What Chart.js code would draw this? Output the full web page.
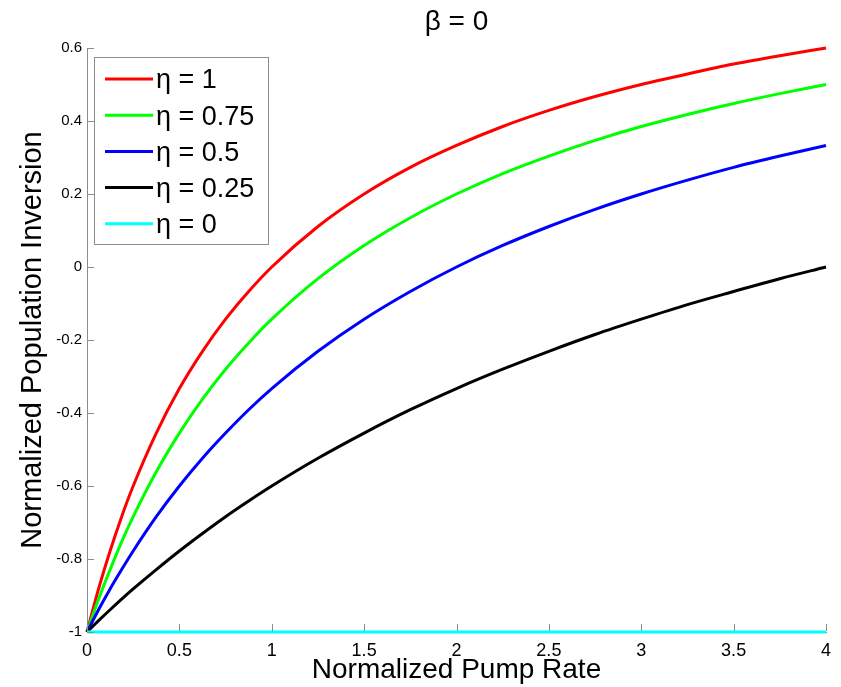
<!DOCTYPE html>
<html lang="en">
<head>
  <meta charset="UTF-8" />
  <title>Population Inversion vs Pump Rate</title>
  <script src="https://cdn.jsdelivr.net/npm/chart.js"></script>
  <style>
    html, body { margin: 0; padding: 0; background: #fff; }
    #wrap { width: 841px; height: 687px; }
  </style>
</head>
<body>
  <div id="wrap"><canvas id="inversionChart" width="841" height="687"></canvas></div>

  <script>
    // normalized pump rate samples (denser near zero where the curves bend hard)
    const pumpRate = [0, 0.0625, 0.125, 0.1875, 0.25, 0.375, 0.5, 0.625, 0.75, 0.875, 1, 1.25, 1.5, 1.75, 2, 2.25, 2.5, 2.75, 3, 3.25, 3.5, 3.75, 4];

    // normalized population inversion
    const eta100 = [-1, -0.882, -0.778, -0.684, -0.6, -0.455, -0.333, -0.231, -0.143, -0.067, 0, 0.111, 0.2, 0.273, 0.333, 0.385, 0.429, 0.467, 0.5, 0.529, 0.556, 0.579, 0.6];
    const eta075 = [-1, -0.91, -0.829, -0.753, -0.684, -0.561, -0.455, -0.362, -0.28, -0.208, -0.143, -0.032, 0.059, 0.135, 0.2, 0.256, 0.304, 0.347, 0.385, 0.418, 0.448, 0.475, 0.5];
    const eta050 = [-1, -0.939, -0.882, -0.829, -0.778, -0.684, -0.6, -0.524, -0.455, -0.391, -0.333, -0.231, -0.143, -0.067, 0, 0.059, 0.111, 0.158, 0.2, 0.238, 0.273, 0.304, 0.333];
    const eta025 = [-1, -0.969, -0.939, -0.91, -0.882, -0.829, -0.778, -0.73, -0.684, -0.641, -0.6, -0.524, -0.455, -0.391, -0.333, -0.28, -0.231, -0.185, -0.143, -0.103, -0.067, -0.032, 0];
    const eta000 = [-1, -1, -1, -1, -1, -1, -1, -1, -1, -1, -1, -1, -1, -1, -1, -1, -1, -1, -1, -1, -1, -1, -1];

    const seriesLabels = ['η = 1', 'η = 0.75', 'η = 0.5', 'η = 0.25', 'η = 0'];
    const seriesColors = ['#ff0000', '#00ff00', '#0000ff', '#000000', '#00ffff'];
    const seriesValues = [eta100, eta075, eta050, eta025, eta000];
    const chartTitle = 'β = 0';

    const FONT = '"Liberation Sans", Arial, sans-serif';
    const AXIS_GREY = '#8c8c8c';

    // title centred over the plot area rather than the canvas
    const plotTitle = {
      id: 'plotTitle',
      afterDraw(chart) {
        const { ctx, chartArea } = chart;
        ctx.save();
        ctx.font = '28px ' + FONT;
        ctx.fillStyle = '#000';
        ctx.textAlign = 'center';
        ctx.textBaseline = 'middle';
        ctx.fillText(chartTitle, (chartArea.left + chartArea.right) / 2, 22);
        ctx.restore();
      }
    };

    // ticks pointing into the plot, matlab style
    const inwardTicks = {
      id: 'inwardTicks',
      afterDatasetsDraw(chart) {
        const { ctx, chartArea, scales } = chart;
        ctx.save();
        ctx.strokeStyle = AXIS_GREY;
        ctx.lineWidth = 1;
        ctx.beginPath();
        scales.x.ticks.forEach(t => {
          const px = Math.round(scales.x.getPixelForValue(t.value)) + 0.5;
          ctx.moveTo(px, chartArea.bottom - 1);
          ctx.lineTo(px, chartArea.bottom - 8);
        });
        scales.y.ticks.forEach(t => {
          const py = Math.round(scales.y.getPixelForValue(t.value)) + 0.5;
          ctx.moveTo(chartArea.left, py);
          ctx.lineTo(chartArea.left + 7, py);
        });
        ctx.stroke();
        ctx.restore();
      }
    };

    // boxed legend in the upper left corner
    const boxLegend = {
      id: 'boxLegend',
      afterDraw(chart) {
        const { ctx, chartArea } = chart;
        const x0 = chartArea.left + 7, y0 = chartArea.top + 9;
        const w = 174, h = 187;
        ctx.save();
        ctx.fillStyle = '#fff';
        ctx.fillRect(x0, y0, w, h);
        ctx.strokeStyle = '#8c8c8c';
        ctx.lineWidth = 1;
        ctx.strokeRect(x0 + 0.5, y0 + 0.5, w, h);
        ctx.font = '27px ' + FONT;
        ctx.textBaseline = 'middle';
        chart.data.datasets.forEach((ds, i) => {
          const y = y0 + 22 + i * 36.2;
          ctx.strokeStyle = ds.borderColor;
          ctx.lineWidth = 3;
          ctx.beginPath();
          ctx.moveTo(x0 + 11, y);
          ctx.lineTo(x0 + 59, y);
          ctx.stroke();
          ctx.fillStyle = '#000';
          ctx.fillText(ds.label, x0 + 62, y + 2);
        });
        ctx.restore();
      }
    };

    new Chart(document.getElementById('inversionChart'), {
      type: 'line',
      data: {
        datasets: seriesValues.map((vals, i) => ({
          label: seriesLabels[i],
          data: pumpRate.map((p, j) => ({ x: p, y: vals[j] })),
          borderColor: seriesColors[i],
          borderWidth: 3,
          pointRadius: 0,
          cubicInterpolationMode: 'monotone',
          fill: false,
          clip: false,
          order: seriesValues.length - i
        }))
      },
      options: {
        responsive: false,
        animation: false,
        layout: { padding: { left: 0, right: 15, top: 48, bottom: 0 } },
        plugins: {
          legend: { display: false },
          tooltip: { enabled: false },
          title: { display: false }
        },
        scales: {
          x: {
            type: 'linear',
            min: 0,
            max: 4,
            afterFit(scale) { scale.height = 55; },
            ticks: {
              stepSize: 0.5,
              color: '#000',
              padding: 8,
              font: { family: FONT, size: 18 },
              maxRotation: 0,
              callback: v => String(v)
            },
            grid: { drawOnChartArea: false, drawTicks: false },
            border: { color: AXIS_GREY, width: 1 },
            title: {
              display: true,
              text: 'Normalized Pump Rate',
              color: '#000',
              font: { family: FONT, size: 28, lineHeight: 1.2 },
              padding: { top: 0, bottom: 0 }
            }
          },
          y: {
            min: -1,
            max: 0.6,
            afterFit(scale) { scale.width = 87; },
            ticks: {
              stepSize: 0.2,
              color: '#000',
              padding: 5,
              font: { family: FONT, size: 15 },
              callback: v => String(Math.round(v * 10) / 10)
            },
            grid: { drawOnChartArea: false, drawTicks: false },
            border: { color: AXIS_GREY, width: 1 },
            title: {
              display: true,
              text: 'Normalized Population Inversion',
              color: '#000',
              font: { family: FONT, size: 29, lineHeight: 1.2 },
              padding: { top: 16, bottom: 0 }
            }
          }
        }
      },
      plugins: [inwardTicks, boxLegend, plotTitle]
    });
  </script>
</body>
</html>
